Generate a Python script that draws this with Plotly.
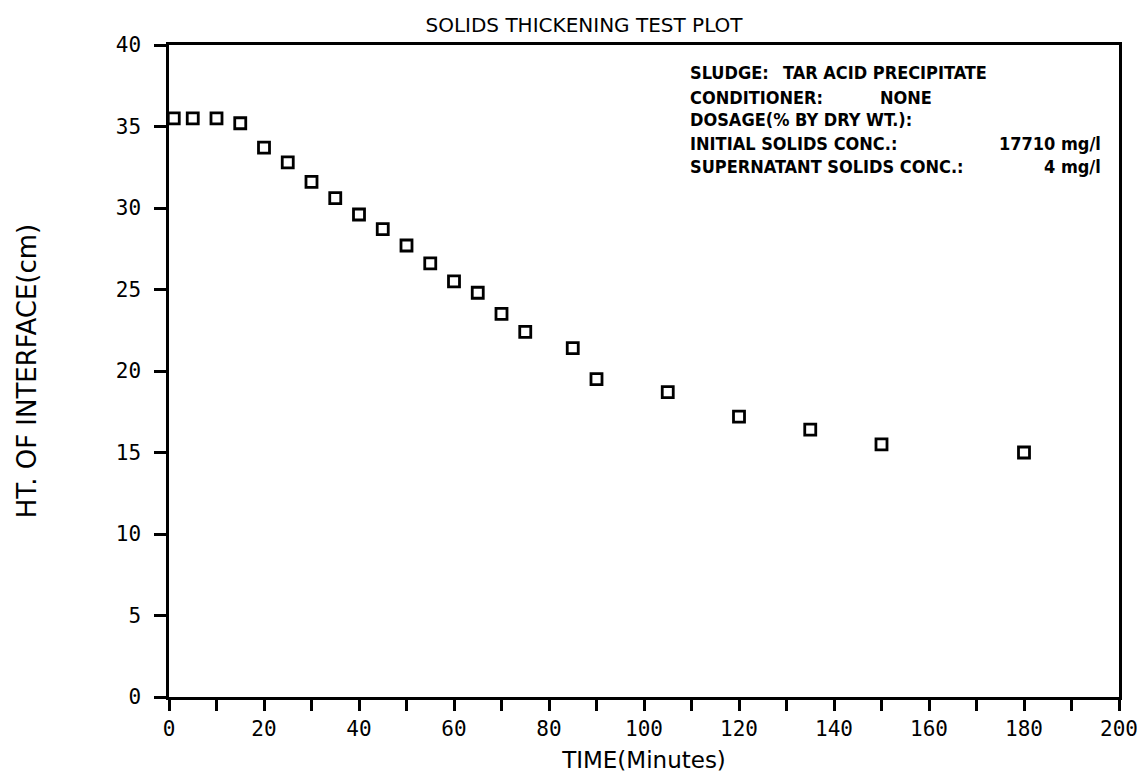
import plotly.graph_objects as go

# Data
time_min = [1, 5, 10, 15, 20, 25, 30, 35, 40, 45, 50, 55, 60, 65, 70, 75, 85, 90, 105, 120, 135, 150, 180]
height_cm = [35.5, 35.5, 35.5, 35.2, 33.7, 32.8, 31.6, 30.6, 29.6, 28.7, 27.7, 26.6, 25.5, 24.8, 23.5, 22.4,
             21.4, 19.5, 18.7, 17.2, 16.4, 15.5, 15.0]

info_labels = ["SLUDGE:", "CONDITIONER:", "DOSAGE(% BY DRY WT.):", "INITIAL SOLIDS CONC.:", "SUPERNATANT SOLIDS CONC.:"]
info_values = ["TAR ACID PRECIPITATE", "NONE", "", "17710 mg/l", "4 mg/l"]

TICK_FONT = dict(family="DejaVu Sans Mono", size=21, color="black")
XTITLE_FONT = dict(family="DejaVu Sans", size=23, color="black")
YTITLE_FONT = dict(family="DejaVu Sans", size=26, color="black")
INFO_FONT = dict(family="Liberation Sans Narrow, DejaVu Sans Condensed, Liberation Sans, sans-serif",
                 size=18, color="black", weight="bold")

fig = go.Figure()
fig.add_trace(go.Scatter(
    x=time_min, y=height_cm, mode="markers",
    marker=dict(symbol="square-open", size=11, color="black", line=dict(width=2.8, color="black")),
    showlegend=False,
))

W, H = 1145, 778
ml, mr, mt, mb = 161, 34, 37, 89
fig.update_layout(
    width=W, height=H,
    margin=dict(l=ml, r=mr, t=mt, b=mb, autoexpand=False),
    paper_bgcolor="white", plot_bgcolor="white",
    title=dict(text="SOLIDS THICKENING TEST PLOT", x=576 / W, xanchor="center",
               y=1 - 17 / H, yanchor="middle", yref="container",
               font=dict(family="DejaVu Sans", size=20, color="black")),
    xaxis=dict(range=[0, 200], tick0=0, dtick=20, ticks="outside", ticklen=11, tickwidth=2.5,
               tickcolor="black", showline=True, linecolor="black", linewidth=2.5, mirror=True,
               showgrid=False, zeroline=False, tickfont=TICK_FONT, ticklabelstandoff=0, automargin=False,
               minor=dict(dtick=10, ticks="outside", ticklen=11, tickwidth=2.5, tickcolor="black", showgrid=False),
               title=dict(text="TIME(Minutes)", font=XTITLE_FONT, standoff=12)),
    yaxis=dict(range=[0, 40], tick0=0, dtick=5, ticks="outside", ticklen=12, tickwidth=2.5,
               tickcolor="black", showline=True, linecolor="black", linewidth=2.5, mirror=True,
               showgrid=False, zeroline=False, tickfont=TICK_FONT, ticklabelstandoff=9, automargin=False,
               title=dict(text="HT. OF INTERFACE(cm)", font=YTITLE_FONT, standoff=72)),
)

pw = W - ml - mr
ph = H - mt - mb
line_px = [65, 90, 111.7, 135, 158.3]
label_x_px = 680
value_pos = [("left", 773), ("left", 870), ("left", 0), ("right", 1095), ("right", 1095)]

def px2paper_x(px):
    return (px - ml) / pw

def px2paper_y(py):
    return (H - mb - py) / ph

for lab, val, py, (anc, vx) in zip(info_labels, info_values, line_px, value_pos):
    fig.add_annotation(text=lab, x=px2paper_x(label_x_px), y=px2paper_y(py), xref="paper", yref="paper",
                       xanchor="left", yanchor="middle", showarrow=False, font=INFO_FONT)
    if val:
        fig.add_annotation(text=val, x=px2paper_x(vx), y=px2paper_y(py), xref="paper", yref="paper",
                           xanchor=anc, yanchor="middle", showarrow=False, font=INFO_FONT)

fig.write_html("out.html")
